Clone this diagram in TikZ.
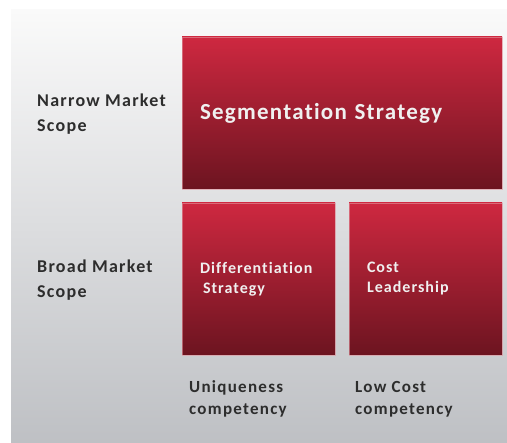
\documentclass[tikz,border=0pt]{standalone}
\usepackage{fontspec}
\setmainfont{Carlito}[Ligatures=NoCommon]
\begin{document}
\definecolor{boxtop}{RGB}{206,40,64}
\definecolor{boxbottom}{RGB}{108,20,32}
\definecolor{boxedge}{RGB}{226,150,160}
\definecolor{paneltop}{RGB}{250,250,250}
\definecolor{panelbottom}{RGB}{190,192,196}
\definecolor{labelgray}{RGB}{45,45,45}
\begin{tikzpicture}[x=1pt,y=1pt,
  strategybox/.style={rectangle, top color=boxtop, bottom color=boxbottom,
    draw=boxedge, draw opacity=0.6, line width=0.6pt,
    inner xsep=18pt, inner ysep=0pt, align=left, text=white!94!black},
  axislabel/.style={anchor=west, align=left, inner sep=0pt, text=labelgray}]
  \useasboundingbox (0,0) rectangle (507,443);
  \fill[white] (0,0) rectangle (507,443);
  % backdrop panel
  \shade[top color=paneltop, bottom color=panelbottom] (11,0) rectangle (507,433);

  % strategy boxes
  \node[strategybox, minimum width=320pt, minimum height=152pt, text width=284pt,
        font=\fontsize{23}{28}\selectfont\bfseries\addfontfeature{LetterSpace=5.5}]
        (seg) at (342,330) {Segmentation Strategy};
  \node[strategybox, minimum width=153pt, minimum height=152pt, text width=117pt,
        font=\fontsize{16}{20}\selectfont\bfseries\addfontfeature{LetterSpace=6.5}]
        (diff) at (258.5,164)
        {Differentiation\\\hspace*{3pt}Strategy};
  \node[strategybox, minimum width=153pt, minimum height=152pt, text width=117pt,
        font=\fontsize{16}{20}\selectfont\bfseries\addfontfeature{LetterSpace=6.5}]
        (cost) at (425.5,164)
        {Cost\\Leadership};

  % market scope labels
  \node[axislabel, font=\fontsize{18}{25}\selectfont\bfseries\addfontfeature{LetterSpace=7}]
        (narrow) at (37,328.5) {Narrow Market\\Scope};
  \node[axislabel, font=\fontsize{18}{25}\selectfont\bfseries\addfontfeature{LetterSpace=7}]
        (broad) at (37,162.5) {Broad Market\\Scope};

  % competency labels
  \node[axislabel, font=\fontsize{17}{22}\selectfont\bfseries\addfontfeature{LetterSpace=7.5}]
        (unique) at (189,44) {Uniqueness\\competency};
  \node[axislabel, font=\fontsize{17}{22}\selectfont\bfseries\addfontfeature{LetterSpace=7.5}]
        (lowcost) at (355,44) {Low Cost\\competency};
\end{tikzpicture}
\end{document}
